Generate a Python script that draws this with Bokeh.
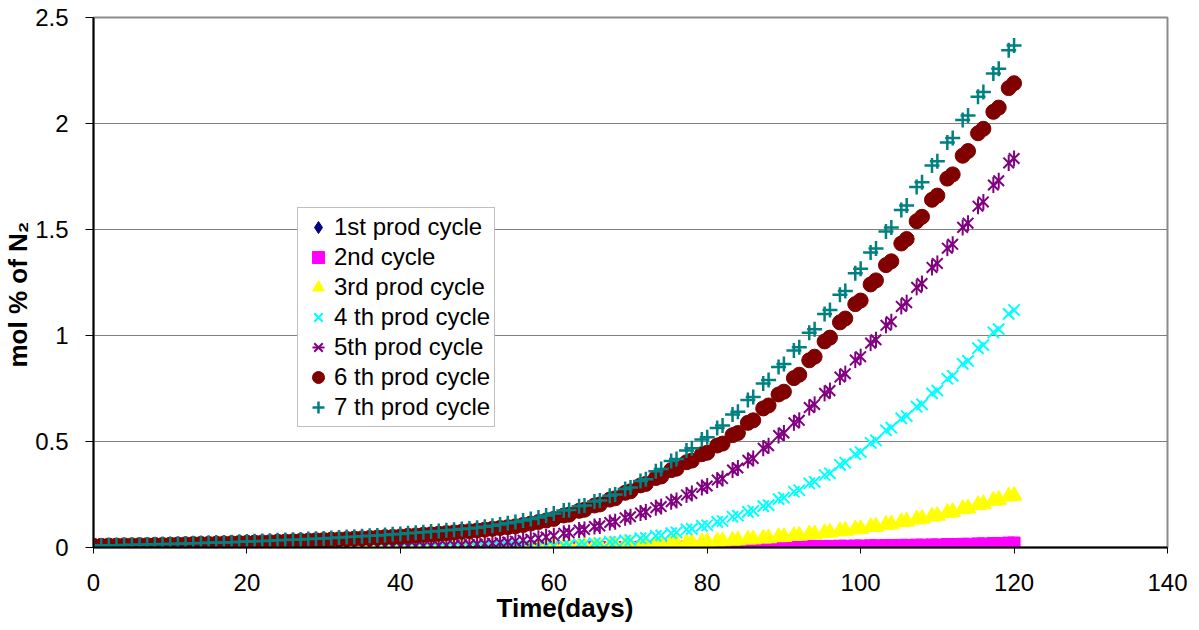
from math import pi

from bokeh.plotting import figure
from bokeh.models import (ColumnDataSource, Range1d, Legend, LegendItem, Title,
                          FixedTicker)
from bokeh.embed import file_html
from bokeh.resources import INLINE

# ---- data -------------------------------------------------------------------
# simulation report times: daily up to day 60, then two reports every 2 days
days = list(range(0, 61)) + [round(t, 1) for k in range(31, 61) for t in (2 * k - 0.7, 2 * k)]

x_ticks = [0, 20, 40, 60, 80, 100, 120, 140]
y_ticks = [0, 0.5, 1, 1.5, 2, 2.5]
y_tick_labels = {0: "0", 0.5: "0.5", 1: "1", 1.5: "1.5", 2: "2", 2.5: "2.5"}

x_title = "Time(days)"
y_title = "mol % of N\u2082"

series_names = ["1st prod cycle", "2nd cycle", "3rd prod cycle", "4 th prod cycle",
                "5th prod cycle", "6 th prod cycle", "7 th prod cycle"]

# mol % of N2, 1st production cycle
cycle1 = [
    0, 0, 0, 0, 0, 0, 0, 0, 0, 0,
    0, 0, 0, 0, 0, 0, 0, 0, 0, 0,
    0, 0, 0, 0, 0, 0, 0, 0, 0, 0,
    0, 0, 0, 0, 0, 0, 0, 0, 0, 0,
    0, 0, 0, 0, 0, 0, 0, 0, 0, 0,
    0, 0, 0, 0, 0, 0, 0, 0, 0, 0,
    0,
    0, 0, 0, 0, 0, 0, 0, 0, 0, 0,
    0, 0, 0, 0, 0, 0, 0, 0, 0, 0,
    0, 0, 0, 0, 0, 0, 0, 0, 0, 0,
    0, 0, 0, 0, 0, 0, 0, 0, 0, 0,
    0, 0, 0, 0, 0, 0, 0, 0, 0, 0,
    0, 0, 0, 0, 0, 0, 0, 0, 0, 0,
]

# 2nd cycle
cycle2 = [
    0, 0, 0, 0, 0, 0, 0, 0, 0, 0,
    0, 0, 0, 0, 0, 0, 0, 0, 0, 0,
    0, 0, 0, 0, 0, 0, 0, 0, 0, 0,
    0, 0, 0, 0, 0, 0, 0, 0, 0, 0,
    0, 0, 0, 0, 0, 0, 0, 0, 0, 0,
    0, 0, 0, 0, 0, 0, 0, 0, 0, 0,
    0,
    0.000, 0.000, 0.000, 0.000, 0.000, 0.000, 0.000, 0.000, 0.000, 0.000,
    0.001, 0.001, 0.001, 0.001, 0.001, 0.001, 0.001, 0.001, 0.001, 0.001,
    0.002, 0.002, 0.002, 0.002, 0.002, 0.002, 0.003, 0.003, 0.003, 0.003,
    0.004, 0.004, 0.005, 0.005, 0.005, 0.005, 0.006, 0.006, 0.007, 0.007,
    0.008, 0.008, 0.009, 0.009, 0.010, 0.010, 0.011, 0.011, 0.012, 0.012,
    0.014, 0.014, 0.015, 0.015, 0.017, 0.017, 0.019, 0.019, 0.021, 0.021,
]

# 3rd production cycle
cycle3 = [
    0, 0, 0, 0, 0, 0, 0, 0, 0, 0,
    0, 0, 0, 0, 0, 0, 0, 0, 0, 0,
    0, 0, 0, 0, 0, 0, 0, 0, 0, 0,
    0, 0, 0, 0, 0, 0, 0, 0, 0, 0,
    0, 0, 0, 0, 0, 0, 0, 0, 0.001, 0.001,
    0.001, 0.001, 0.001, 0.002, 0.002, 0.002, 0.002, 0.003, 0.003, 0.003,
    0.004,
    0.005, 0.005, 0.006, 0.006, 0.008, 0.008, 0.010, 0.010, 0.012, 0.012,
    0.014, 0.014, 0.016, 0.017, 0.019, 0.020, 0.022, 0.023, 0.025, 0.026,
    0.029, 0.030, 0.033, 0.034, 0.038, 0.039, 0.043, 0.044, 0.049, 0.050,
    0.055, 0.056, 0.062, 0.063, 0.069, 0.071, 0.077, 0.079, 0.086, 0.088,
    0.097, 0.099, 0.108, 0.110, 0.120, 0.123, 0.133, 0.136, 0.147, 0.150,
    0.164, 0.168, 0.182, 0.185, 0.201, 0.205, 0.221, 0.225, 0.241, 0.245,
]

# 4th production cycle
cycle4 = [
    0, 0, 0, 0, 0, 0, 0, 0, 0, 0,
    0, 0, 0, 0, 0, 0, 0, 0, 0, 0,
    0, 0, 0, 0, 0, 0, 0, 0, 0, 0,
    0.000, 0.000, 0.000, 0.000, 0.000, 0.001, 0.001, 0.001, 0.001, 0.001,
    0.001, 0.001, 0.001, 0.002, 0.002, 0.002, 0.002, 0.002, 0.003, 0.003,
    0.003, 0.003, 0.004, 0.004, 0.004, 0.005, 0.005, 0.006, 0.006, 0.007,
    0.008,
    0.010, 0.011, 0.014, 0.015, 0.019, 0.020, 0.026, 0.027, 0.033, 0.035,
    0.043, 0.045, 0.055, 0.057, 0.068, 0.071, 0.085, 0.088, 0.102, 0.105,
    0.121, 0.125, 0.145, 0.150, 0.168, 0.173, 0.195, 0.200, 0.228, 0.235,
    0.263, 0.270, 0.302, 0.310, 0.342, 0.350, 0.390, 0.400, 0.440, 0.450,
    0.494, 0.505, 0.553, 0.565, 0.609, 0.620, 0.664, 0.675, 0.727, 0.740,
    0.796, 0.810, 0.866, 0.880, 0.940, 0.955, 1.015, 1.030, 1.102, 1.120,
]

# 5th production cycle
cycle5 = [
    0.000, 0.000, 0.000, 0.000, 0.000, 0.000, 0.000, 0.000, 0.000, 0.000,
    0.000, 0.000, 0.001, 0.001, 0.001, 0.001, 0.001, 0.001, 0.001, 0.001,
    0.001, 0.001, 0.001, 0.002, 0.002, 0.002, 0.002, 0.002, 0.002, 0.002,
    0.002, 0.003, 0.003, 0.003, 0.004, 0.004, 0.004, 0.005, 0.005, 0.006,
    0.006, 0.007, 0.007, 0.008, 0.009, 0.010, 0.011, 0.012, 0.013, 0.014,
    0.016, 0.018, 0.020, 0.023, 0.026, 0.030, 0.034, 0.039, 0.044, 0.049,
    0.055,
    0.067, 0.070, 0.082, 0.085, 0.099, 0.102, 0.118, 0.122, 0.140, 0.145,
    0.163, 0.168, 0.188, 0.193, 0.216, 0.222, 0.248, 0.255, 0.283, 0.290,
    0.318, 0.325, 0.365, 0.375, 0.411, 0.420, 0.468, 0.480, 0.528, 0.540,
    0.588, 0.600, 0.660, 0.675, 0.727, 0.740, 0.804, 0.820, 0.884, 0.900,
    0.964, 0.980, 1.048, 1.065, 1.137, 1.155, 1.227, 1.245, 1.321, 1.340,
    1.412, 1.430, 1.510, 1.530, 1.610, 1.630, 1.710, 1.730, 1.814, 1.835,
]

# 6th production cycle
cycle6 = [
    0.008, 0.008, 0.009, 0.009, 0.010, 0.010, 0.011, 0.011, 0.012, 0.012,
    0.013, 0.014, 0.015, 0.016, 0.017, 0.017, 0.018, 0.019, 0.020, 0.021,
    0.022, 0.023, 0.024, 0.025, 0.027, 0.028, 0.029, 0.031, 0.032, 0.034,
    0.035, 0.037, 0.038, 0.040, 0.042, 0.043, 0.045, 0.047, 0.049, 0.050,
    0.052, 0.055, 0.057, 0.060, 0.062, 0.065, 0.068, 0.071, 0.074, 0.077,
    0.080, 0.084, 0.088, 0.092, 0.096, 0.100, 0.106, 0.113, 0.120, 0.127,
    0.135,
    0.151, 0.155, 0.173, 0.178, 0.198, 0.203, 0.226, 0.232, 0.258, 0.265,
    0.293, 0.300, 0.328, 0.335, 0.365, 0.372, 0.402, 0.410, 0.440, 0.447,
    0.481, 0.490, 0.530, 0.540, 0.588, 0.600, 0.656, 0.670, 0.722, 0.735,
    0.799, 0.815, 0.883, 0.900, 0.972, 0.990, 1.062, 1.080, 1.148, 1.165,
    1.241, 1.260, 1.332, 1.350, 1.434, 1.455, 1.539, 1.560, 1.640, 1.660,
    1.740, 1.760, 1.848, 1.870, 1.954, 1.975, 2.055, 2.075, 2.167, 2.190,
]

# 7th production cycle
cycle7 = [
    0.010, 0.010, 0.011, 0.011, 0.012, 0.013, 0.013, 0.014, 0.015, 0.016,
    0.017, 0.018, 0.019, 0.020, 0.021, 0.022, 0.023, 0.024, 0.025, 0.027,
    0.028, 0.029, 0.031, 0.032, 0.034, 0.035, 0.037, 0.038, 0.040, 0.041,
    0.043, 0.045, 0.047, 0.049, 0.051, 0.053, 0.055, 0.057, 0.059, 0.062,
    0.064, 0.067, 0.069, 0.072, 0.075, 0.078, 0.081, 0.084, 0.087, 0.090,
    0.093, 0.098, 0.103, 0.108, 0.114, 0.120, 0.127, 0.134, 0.142, 0.151,
    0.160,
    0.174, 0.177, 0.194, 0.198, 0.217, 0.222, 0.244, 0.250, 0.276, 0.283,
    0.314, 0.322, 0.360, 0.370, 0.408, 0.418, 0.458, 0.468, 0.510, 0.520,
    0.564, 0.575, 0.627, 0.640, 0.696, 0.710, 0.774, 0.790, 0.851, 0.866,
    0.929, 0.945, 1.013, 1.030, 1.102, 1.120, 1.192, 1.210, 1.294, 1.315,
    1.391, 1.410, 1.490, 1.510, 1.592, 1.613, 1.701, 1.723, 1.802, 1.822,
    1.910, 1.932, 2.017, 2.038, 2.126, 2.148, 2.236, 2.258, 2.346, 2.368,
]

source = ColumnDataSource(dict(days=days, c1=cycle1, c2=cycle2, c3=cycle3, c4=cycle4,
                               c5=cycle5, c6=cycle6, c7=cycle7))

FONT = "Liberation Sans"

# ---- figure -----------------------------------------------------------------
p = figure(width=1199, height=630, output_backend="svg", toolbar_location=None,
           x_range=Range1d(0, 140), y_range=Range1d(0, 2.5),
           min_border_left=92, min_border_right=32, min_border_top=17,
           min_border_bottom=83)
p.background_fill_color = "white"
p.border_fill_color = "white"
p.outline_line_color = "#8c8c8c"
p.outline_line_width = 2

p.xgrid.visible = False
p.ygrid.grid_line_color = "#7f7f7f"
p.ygrid.grid_line_width = 1
p.ygrid.ticker = FixedTicker(ticks=y_ticks)

p.xaxis.ticker = FixedTicker(ticks=x_ticks)
p.yaxis.ticker = FixedTicker(ticks=y_ticks)
p.yaxis.major_label_overrides = y_tick_labels
for ax in (p.xaxis, p.yaxis):
    ax.axis_line_color = "black"
    ax.axis_line_width = 2
    ax.major_tick_line_color = "black"
    ax.major_tick_line_width = 1
    ax.major_tick_in = 0
    ax.minor_tick_line_color = None
    ax.major_label_text_font = FONT
    ax.major_label_text_font_size = "24px"
    ax.major_label_text_color = "black"
p.xaxis.major_tick_out = 6
p.xaxis.major_label_standoff = 20
p.yaxis.major_tick_out = 8
p.yaxis.major_label_standoff = 17

# axis titles as side titles so they can be shifted along the axis
p.add_layout(Title(text=x_title, align="left", offset=403, standoff=-6,
                   text_font=FONT, text_font_style="bold", text_font_size="26px",
                   text_color="black"), "below")
p.add_layout(Title(text=y_title, align="left", offset=180, standoff=0,
                   text_font=FONT, text_font_style="bold", text_font_size="26px",
                   text_color="black"), "left")

# ---- series -----------------------------------------------------------------
navy, magenta, yellow, cyan = "#000080", "#ff00ff", "#ffff00", "#00ffff"
purple, maroon, teal = "#800080", "#800000", "#008080"

r1 = p.scatter("days", "c1", source=source, marker="diamond", size=13,
               fill_color=navy, line_color=navy)
r2 = p.scatter("days", "c2", source=source, marker="square", size=12,
               fill_color=magenta, line_color=magenta)
r3 = p.scatter("days", "c3", source=source, marker="triangle", size=16,
               fill_color=yellow, line_color=yellow)
r4 = p.scatter("days", "c4", source=source, marker="x", size=16,
               line_color=cyan, line_width=2)
r5a = p.scatter("days", "c5", source=source, marker="x", size=15,
                line_color=purple, line_width=2)
r5b = p.scatter("days", "c5", source=source, marker="dash", size=16, angle=pi / 2,
                line_color=purple, line_width=2)
r6 = p.scatter("days", "c6", source=source, marker="circle", size=15,
               fill_color=maroon, line_color=maroon)
r7 = p.scatter("days", "c7", source=source, marker="cross", size=15,
               line_color=teal, line_width=2.5)

renderer_groups = [[r1], [r2], [r3], [r4], [r5a, r5b], [r6], [r7]]
legend = Legend(items=[LegendItem(label=name, renderers=grp)
                       for name, grp in zip(series_names, renderer_groups)],
                location=(204, 120))
legend.border_line_color = "#808080"
legend.border_line_width = 1
legend.background_fill_color = "white"
legend.background_fill_alpha = 1
legend.label_text_font = FONT
legend.label_text_font_size = "24px"
legend.label_text_color = "black"
legend.glyph_width = 32
legend.glyph_height = 30
legend.label_height = 30
legend.spacing = 0
legend.padding = 4
legend.margin = 0
legend.label_standoff = 0
p.add_layout(legend)

open("out.html", "w").write(file_html(p, INLINE))
